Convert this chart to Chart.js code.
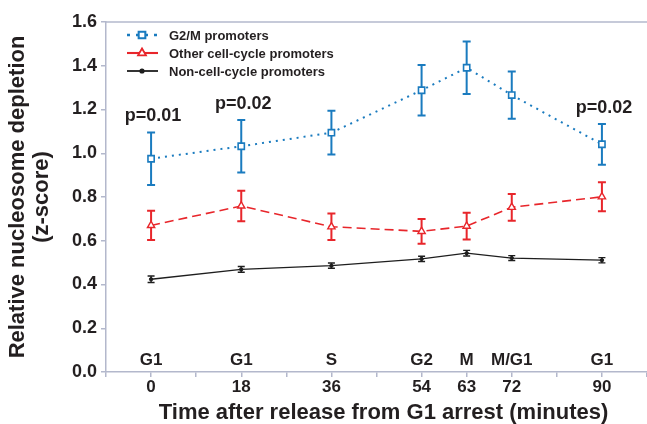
<!DOCTYPE html>
<html>
<head>
<meta charset="utf-8">
<script src="https://cdn.jsdelivr.net/npm/chart.js@4/dist/chart.umd.min.js"></script>
<style>
    body { margin: 0; background: #fff; }
</style>
</head>
<body>
<canvas id="graph" width="647" height="424"></canvas>
<script>
//time points (minutes after release)
var times = [0, 18, 36, 54, 63, 72, 90];
//cell-cycle phase at each time point
var phases = ['G1', 'G1', 'S', 'G2', 'M', 'M/G1', 'G1'];
//x values that get a tick label
var time_labels = [0, 18, 36, 54, 63, 72, 90];
//y tick labels run 0.0 .. 1.6 by 0.2
var y_ticks = [0, 0.2, 0.4, 0.6, 0.8, 1.0, 1.2, 1.4, 1.6];

//series values + error bars
var g2m_values = [0.975, 1.032, 1.094, 1.288, 1.391, 1.266, 1.041];
var g2m_errors = [0.120, 0.120, 0.100, 0.115, 0.120, 0.108, 0.093];
var other_values = [0.670, 0.759, 0.664, 0.643, 0.667, 0.753, 0.801];
var other_errors = [0.067, 0.070, 0.061, 0.057, 0.061, 0.061, 0.066];
var noncc_values = [0.424, 0.469, 0.486, 0.517, 0.543, 0.521, 0.511];
var noncc_errors = [0.015, 0.013, 0.012, 0.012, 0.013, 0.011, 0.012];

//p-values, one per time point ('' = none)
var p_labels = ['p=0.01', 'p=0.02', '', '', '', '', 'p=0.02'];

var x_title = 'Time after release from G1 arrest (minutes)';

var axis_color = '#b3b8cc';
var text_color = '#231f20';
var font_family = "'Liberation Sans', Arial, sans-serif";

Chart.defaults.font.family = font_family;
Chart.defaults.color = text_color;

function make_points(values) {
    return times.map(function (t, i) { return { x: t, y: values[i] }; });
}

//error bars drawn under the lines/markers
var error_bars = {
    id: 'error_bars',
    beforeDatasetsDraw: function (chart) {
        var ctx = chart.ctx;
        var y = chart.scales.y;
        chart.data.datasets.forEach(function (ds, di) {
            var meta = chart.getDatasetMeta(di);
            ctx.save();
            ctx.strokeStyle = ds.borderColor;
            ctx.lineWidth = ds.errWidth;
            meta.data.forEach(function (pt, i) {
                var v = ds.data[i].y;
                var top = y.getPixelForValue(v + ds.errors[i]);
                var bot = y.getPixelForValue(v - ds.errors[i]);
                ctx.beginPath();
                ctx.moveTo(pt.x, top);
                ctx.lineTo(pt.x, bot);
                ctx.moveTo(pt.x - ds.capWidth, top);
                ctx.lineTo(pt.x + ds.capWidth, top);
                ctx.moveTo(pt.x - ds.capWidth, bot);
                ctx.lineTo(pt.x + ds.capWidth, bot);
                ctx.stroke();
            });
            ctx.restore();
        });
    }
};

//frame top line, phase names, p-values, x title, legend
var extras = {
    id: 'extras',
    afterDraw: function (chart) {
        var ctx = chart.ctx;
        var area = chart.chartArea;
        var x = chart.scales.x;
        var y = chart.scales.y;

        ctx.save();
        ctx.strokeStyle = axis_color;
        ctx.lineWidth = 1.5;
        ctx.beginPath();
        ctx.moveTo(area.left, area.top);
        ctx.lineTo(area.right, area.top);
        ctx.stroke();

        ctx.fillStyle = text_color;
        ctx.textAlign = 'center';
        ctx.textBaseline = 'middle';
        ctx.font = 'bold 17px ' + font_family;
        phases.forEach(function (p, i) {
            ctx.fillText(p, x.getPixelForValue(times[i]), y.getPixelForValue(0) - 12);
        });

        ctx.font = 'bold 18px ' + font_family;
        p_labels.forEach(function (p, i) {
            if (p == '') return;
            var top = y.getPixelForValue(g2m_values[i] + g2m_errors[i]);
            ctx.fillText(p, x.getPixelForValue(times[i]) + 2, top - 16);
        });

        //x axis title, a bit right of centre like the original
        ctx.font = 'bold 22px ' + font_family;
        ctx.fillText(x_title, (area.left + area.right) / 2 + 7, 413);

        //legend
        ctx.textAlign = 'left';
        ctx.font = 'bold 13px ' + font_family;
        var row_y = [35, 53, 71];
        chart.data.datasets.forEach(function (ds, di) {
            var ly = row_y[di];
            ctx.strokeStyle = ds.borderColor;
            ctx.lineWidth = ds.borderWidth + 0.5;
            ctx.setLineDash(di == 0 ? [3, 6] : []);
            ctx.beginPath();
            ctx.moveTo(127, ly);
            ctx.lineTo(158, ly);
            ctx.stroke();
            ctx.setLineDash([]);
            Chart.helpers.drawPoint(ctx, {
                pointStyle: ds.pointStyle,
                radius: ds.pointRadius,
                borderWidth: ds.pointBorderWidth,
                rotation: 0
            }, 142, ly);
            ctx.fillStyle = ds.pointBackgroundColor;
            ctx.strokeStyle = ds.borderColor;
            ctx.lineWidth = ds.pointBorderWidth;
            ctx.fill();
            ctx.stroke();
            ctx.fillStyle = text_color;
            ctx.fillText(ds.label, 169, ly + 1);
        });
        ctx.restore();
    }
};

const ctx = document.getElementById('graph');

new Chart(ctx, {
    type: 'line',
    data: {
        datasets: [{
            label: 'G2/M promoters',
            data: make_points(g2m_values),
            errors: g2m_errors,
            borderColor: '#1a7bbf',
            borderWidth: 2,
            borderDash: [2, 5],
            pointStyle: 'rect',
            pointRadius: 4.4,
            pointBorderWidth: 1.6,
            pointBackgroundColor: '#fff',
            errWidth: 2,
            capWidth: 4
        }, {
            label: 'Other cell-cycle promoters',
            data: make_points(other_values),
            errors: other_errors,
            borderColor: '#e8262b',
            borderWidth: 1.6,
            borderDash: [9, 5],
            pointStyle: 'triangle',
            pointRadius: 4.2,
            pointBorderWidth: 1.4,
            pointBackgroundColor: '#fff',
            errWidth: 2,
            capWidth: 4
        }, {
            label: 'Non-cell-cycle promoters',
            data: make_points(noncc_values),
            errors: noncc_errors,
            borderColor: '#1e1e1e',
            borderWidth: 1.3,
            pointStyle: 'circle',
            pointRadius: 1.7,
            pointBorderWidth: 1,
            pointBackgroundColor: '#1e1e1e',
            errWidth: 1.4,
            capWidth: 3.5
        }]
    },
    options: {
        responsive: false,
        devicePixelRatio: 1,
        animation: false,
        layout: {
            autoPadding: false,
            padding: { top: 22, right: 0, left: 0, bottom: 0 }
        },
        plugins: {
            legend: { display: false },
            tooltip: { enabled: false }
        },
        scales: {
            x: {
                type: 'linear',
                min: -9,
                max: 99,
                afterFit: function (scale) {
                    scale.height = 52;
                    scale.paddingRight = 0;
                    scale.paddingLeft = 0;
                },
                afterBuildTicks: function (scale) {
                    var t = [];
                    for (var v = -9; v <= 99; v += 9) t.push({ value: v });
                    scale.ticks = t;
                },
                ticks: {
                    autoSkip: false,
                    maxRotation: 0,
                    padding: 0,
                    color: text_color,
                    font: { size: 17, weight: 'bold' },
                    callback: function (v) {
                        return time_labels.indexOf(v) >= 0 ? String(v) : '';
                    }
                },
                grid: {
                    drawOnChartArea: false,
                    tickLength: 5,
                    color: axis_color,
                    lineWidth: 1.5
                },
                border: { color: axis_color, width: 1.5 }
            },
            y: {
                min: 0,
                max: 1.6,
                afterFit: function (scale) { scale.width = 106; },
                afterBuildTicks: function (scale) {
                    scale.ticks = y_ticks.map(function (v) { return { value: v }; });
                },
                ticks: {
                    padding: 4,
                    color: text_color,
                    font: { size: 18, weight: 'bold' },
                    callback: function (v) { return v.toFixed(1); }
                },
                grid: {
                    drawOnChartArea: false,
                    tickLength: 5,
                    color: axis_color,
                    lineWidth: 1.5
                },
                border: { color: axis_color, width: 1.5 },
                title: {
                    display: true,
                    text: ['Relative nucleosome depletion', '(z-score)'],
                    color: text_color,
                    font: { size: 22, weight: 'bold', lineHeight: 1.1 },
                    padding: { top: 6, bottom: 0 }
                }
            }
        }
    },
    plugins: [error_bars, extras]
});
</script>
</body>
</html>
